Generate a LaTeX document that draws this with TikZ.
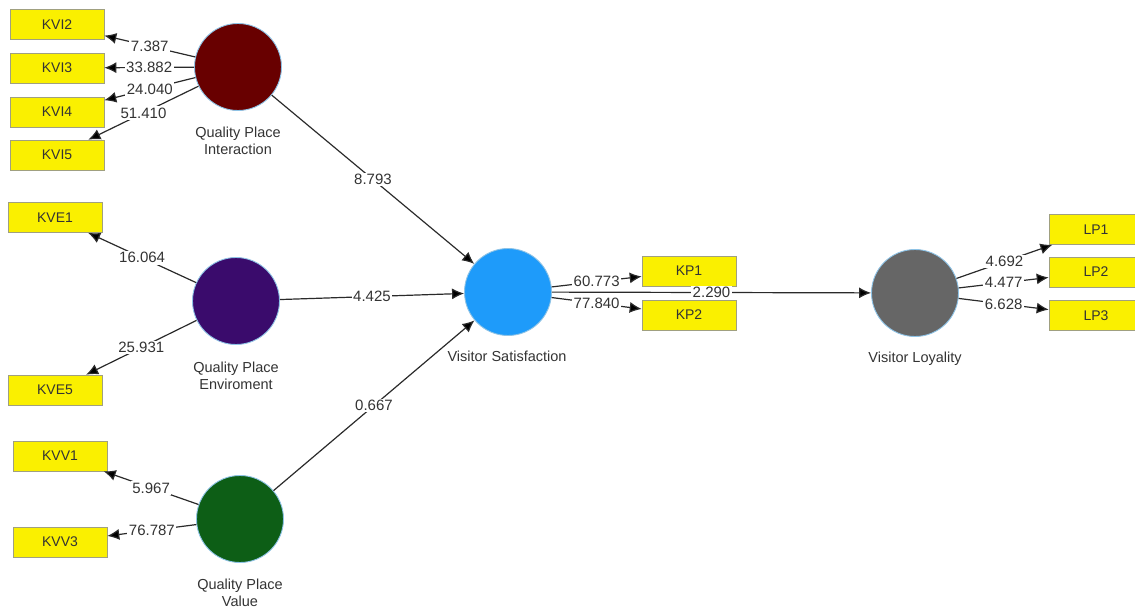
\documentclass[tikz,border=0pt]{standalone}
\usepackage{fontspec}
\setmainfont{Liberation Sans}
\usetikzlibrary{arrows.meta}
\definecolor{boxyellow}{HTML}{FAF000}
\definecolor{boxedge}{HTML}{A0A080}
\definecolor{ringblue}{HTML}{8EC3E6}
\definecolor{txtgray}{HTML}{333333}
\definecolor{linegray}{HTML}{2A2A2A}
\definecolor{qpicol}{HTML}{680000}
\definecolor{qpecol}{HTML}{3A0B6C}
\definecolor{qpvcol}{HTML}{0D5E16}
\definecolor{vscol}{HTML}{1E9BFA}
\definecolor{vlcol}{HTML}{666666}
\begin{document}
\begin{tikzpicture}[x=1pt,y=-1pt,
  lv/.style={circle, minimum size=87pt, inner sep=0pt, draw=ringblue, line width=0.9pt},
  indbox/.style={rectangle, draw=boxedge, line width=0.6pt, fill=boxyellow,
    minimum width=94pt, minimum height=30pt, inner sep=0pt,
    font=\fontsize{14}{16}\selectfont, text=txtgray},
  lvname/.style={align=center, font=\fontsize{14.5}{16.5}\selectfont, text=txtgray},
  conn/.style={draw=linegray, line width=1.2pt,
    -{Latex[length=12pt,width=11pt,fill=black]}},
  coef/.style={fill=white, inner sep=1.5pt, font=\fontsize{15}{17}\selectfont, text=txtgray}
]
\useasboundingbox (0,0) rectangle (1135,612);
\clip (0,0) rectangle (1135,612);

% latent variables
\node[lv, fill=qpicol] (qpi) at (238,67) {};
\node[lv, fill=qpecol] (qpe) at (236,301) {};
\node[lv, fill=qpvcol] (qpv) at (240,519) {};
\node[lv, fill=vscol]  (vs)  at (508,292) {};
\node[lv, fill=vlcol]  (vl)  at (915,293) {};

\node[lvname] (qpilab) at (238,141) {Quality Place\\Interaction};
\node[lvname] (qpelab) at (236,376) {Quality Place\\Enviroment};
\node[lvname] (qpvlab) at (240,593) {Quality Place\\Value};
\node[lvname] (vslab)  at (507,356) {Visitor Satisfaction};
\node[lvname] (vllab)  at (915,359) {Visitor Loyality};

% indicators
\node[indbox] (kvi2) at (57,24.5) {KVI2};
\node[indbox] (kvi3) at (57,68) {KVI3};
\node[indbox] (kvi4) at (57,112) {KVI4};
\node[indbox] (kvi5) at (57,155) {KVI5};
\node[indbox] (kve1) at (55,217.5) {KVE1};
\node[indbox] (kve5) at (55,390) {KVE5};
\node[indbox] (kvv1) at (60,456) {KVV1};
\node[indbox] (kvv3) at (60,542) {KVV3};
\node[indbox] (kp1)  at (689,271) {KP1};
\node[indbox] (kp2)  at (689,315) {KP2};
\node[indbox] (lp1)  at (1096,229.5) {LP1};
\node[indbox] (lp2)  at (1096,272) {LP2};
\node[indbox] (lp3)  at (1096,315.5) {LP3};

% outer loadings
\draw[conn] (qpi) -- node[coef]{7.387} (kvi2);
\draw[conn] (qpi) -- node[coef]{33.882} (kvi3);
\draw[conn] (qpi) -- node[coef]{24.040} (kvi4);
\draw[conn] (qpi) -- node[coef]{51.410} (kvi5);
\draw[conn] (qpe) -- node[coef]{16.064} (kve1);
\draw[conn] (qpe) -- node[coef]{25.931} (kve5);
\draw[conn] (qpv) -- node[coef]{5.967} (kvv1);
\draw[conn] (qpv) -- node[coef]{76.787} (kvv3);
\draw[conn] (vs) -- node[coef]{60.773} (kp1);
\draw[conn] (vs) -- node[coef]{77.840} (kp2);
\draw[conn] (vl) -- node[coef]{4.692} (lp1);
\draw[conn] (vl) -- node[coef]{4.477} (lp2);
\draw[conn] (vl) -- node[coef]{6.628} (lp3);

% structural paths
\draw[conn] (qpi) -- node[coef]{8.793} (vs);
\draw[conn] (qpe) -- node[coef]{4.425} (vs);
\draw[conn] (qpv) -- node[coef]{0.667} (vs);
\draw[conn] (vs) -- node[coef]{2.290} (vl);
\end{tikzpicture}
\end{document}
